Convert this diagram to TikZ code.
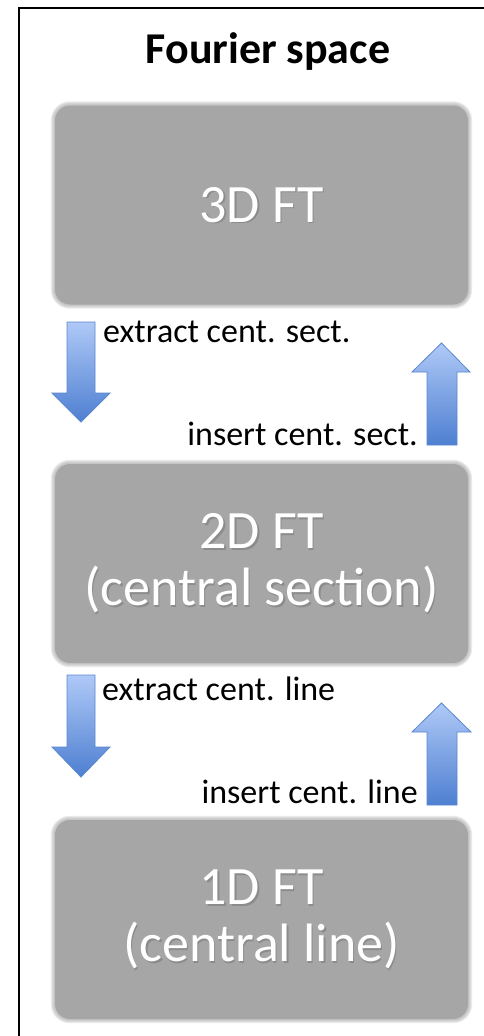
\documentclass[tikz,border=0pt]{standalone}
\usepackage{fontspec}
\setmainfont{Carlito}
\definecolor{boxgray}{HTML}{A6A6A6}
\definecolor{arrlight}{HTML}{AFC9F7}
\definecolor{arrdark}{HTML}{4E7FD1}
\definecolor{arredge}{HTML}{5B87CF}
\begin{document}
\begin{tikzpicture}[x=1pt,y=-1pt,
  ftbox/.style={rounded corners=15pt, fill=boxgray, minimum width=413pt, minimum height=199pt, inner sep=0pt},
  fttext/.style={text=white, align=center, inner sep=0pt, font=\fontsize{54}{57}\selectfont},
  ftshadow/.style={text=black!55, opacity=0.5, align=center, inner sep=0pt, font=\fontsize{54}{57}\selectfont},
  lblw/.style={font=\fontsize{34}{40}\selectfont, inner sep=0pt, anchor=base west},
  lble/.style={font=\fontsize{34}{40}\selectfont, inner sep=0pt, anchor=base east},
  fuzz/.style={fill=boxgray, opacity=0.22},
  blockarrow/.style={top color=arrlight, bottom color=arrdark, draw=arredge, line width=0.8pt, line join=miter}
]
\useasboundingbox (0,0) rectangle (483,1036);
\fill[white] (0,0) rectangle (483,1036);
% frame
\draw[line width=1.6pt] (19,1040) -- (19,8) -- (490,8);
% title
\node[font=\bfseries\fontsize{44}{50}\selectfont, anchor=base, inner sep=0pt] (title) at (268,63) {Fourier space};
% boxes
\node[ftbox] (b1) at (261.5,205) {};
\node[ftbox] (b2) at (261.5,563.5) {};
\node[ftbox] (b3) at (261.5,919.5) {};
% soft edges
\foreach \b in {b1,b2,b3}{
  \foreach \d in {1,2,3,4}{
    \fill[fuzz, rounded corners={15pt+\d pt}] ([xshift=-\d pt, yshift=-\d pt]\b.south west) rectangle ([xshift=\d pt, yshift=\d pt]\b.north east);
  }
}
% box texts with shadow
\node[ftshadow] (t1s) at ([xshift=1.5pt,yshift=-1.5pt]b1.center) {3D FT};
\node[fttext] (t1) at (b1.center) {3D FT};
\node[ftshadow] (t2s) at ([xshift=1.5pt,yshift=-1.5pt]b2.center) {2D FT\\(central section)};
\node[fttext] (t2) at (b2.center) {2D FT\\(central section)};
\node[ftshadow] (t3s) at ([xshift=1.5pt,yshift=-1.5pt]b3.center) {1D FT\\(central line)};
\node[fttext] (t3) at (b3.center) {1D FT\\(central line)};
% block arrows
\shade[blockarrow] (67,322) -- (95,322) -- (95,393) -- (110,393) -- (81,422) -- (52,393) -- (67,393) -- cycle;
\shade[blockarrow] (427,445) -- (457,445) -- (457,372) -- (470,372) -- (441.5,343) -- (412,372) -- (427,372) -- cycle;
\shade[blockarrow] (67,675) -- (95,675) -- (95,747) -- (110,747) -- (81,777) -- (52,747) -- (67,747) -- cycle;
\shade[blockarrow] (427,805) -- (457,805) -- (457,732) -- (471,732) -- (441.5,703) -- (412,732) -- (427,732) -- cycle;
% labels
\node[lblw] (l1) at (103,342) {extract cent. sect.};
\node[lble] (l2) at (418,445) {insert cent. sect.};
\node[lblw] (l3) at (102,700) {extract cent. line};
\node[lble] (l4) at (418,803) {insert cent. line};
\end{tikzpicture}
\end{document}
